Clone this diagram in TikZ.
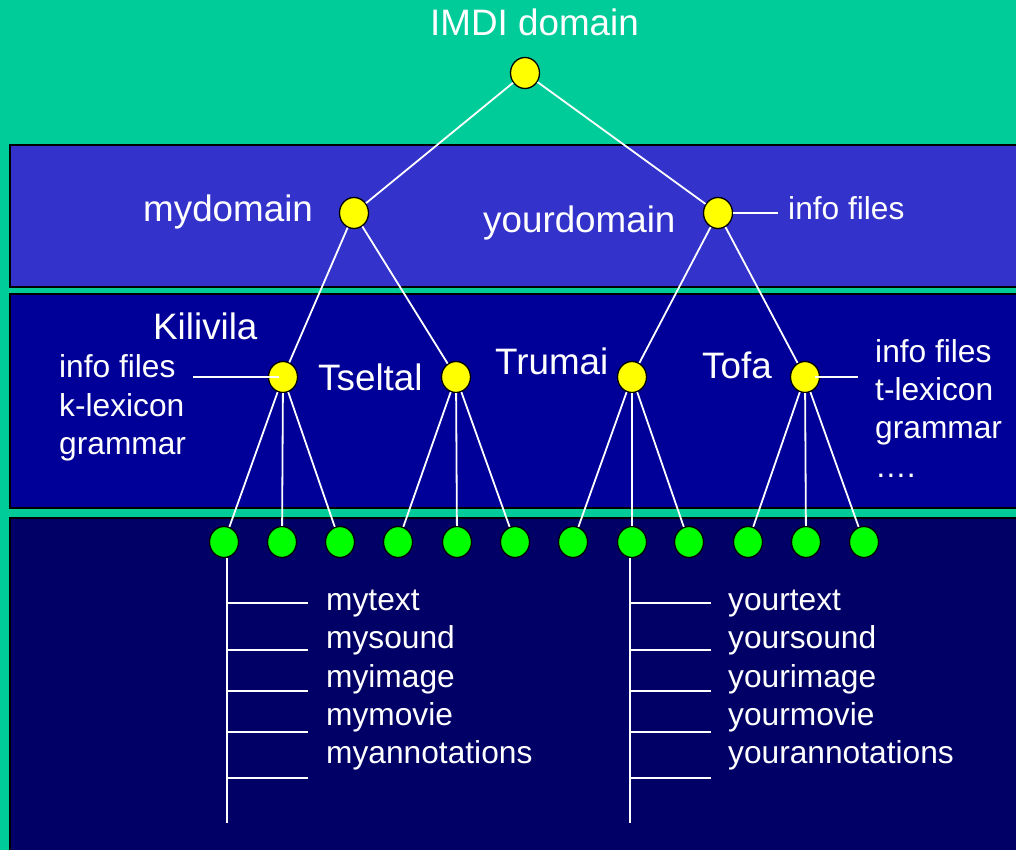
\documentclass[tikz,border=0pt]{standalone}
\usepackage{fontspec}
\setmainfont{Liberation Sans}
\usetikzlibrary{shapes.geometric}
\definecolor{bgteal}{HTML}{00CC99}
\definecolor{bandone}{HTML}{3333CC}
\definecolor{bandtwo}{HTML}{000099}
\definecolor{bandthree}{HTML}{000066}
\definecolor{leafgreen}{HTML}{00FF00}
\definecolor{domyellow}{HTML}{FFFF00}
\tikzset{
  band/.style={draw=black, line width=1.2},
  dom/.style={ellipse, draw=black, line width=1.3, fill=domyellow,
    minimum width=29, minimum height=31, inner sep=0},
  leaf/.style={dom, fill=leafgreen},
  link/.style={draw=white, line width=1.8},
  big/.style={text=white, font=\fontsize{36.8}{40}\selectfont, anchor=base west, inner sep=0},
  small/.style={text=white, font=\fontsize{31.7}{38}\selectfont, anchor=base west, inner sep=0}
}
\begin{document}
\begin{tikzpicture}[x=1pt,y=-1pt]
  \clip (0,0) rectangle (1016,850);
  \fill[bgteal] (0,0) rectangle (1016,850);
  % layered bands
  \filldraw[band, fill=bandone]   (10,145) rectangle (1030,287);
  \filldraw[band, fill=bandtwo]   (10,294) rectangle (1030,508);
  \filldraw[band, fill=bandthree] (10,518) rectangle (1030,870);

  % tree nodes
  \node[dom] (root) at (525,73) {};
  \node[dom] (myd) at (354,213) {};
  \node[dom] (yd)  at (718,213) {};
  \node[dom] (kil) at (283,377) {};
  \node[dom] (tse) at (456,377) {};
  \node[dom] (tru) at (632,377) {};
  \node[dom] (tof) at (805,377) {};
  \foreach \i/\x in {1/224,2/282,3/340,4/398,5/457,6/515,7/573,8/632,9/689,10/748,11/806,12/864}
    \node[leaf] (g\i) at (\x,542) {};

  % tree edges
  \draw[link] (root) -- (myd);
  \draw[link] (root) -- (yd);
  \draw[link] (myd) -- (kil);
  \draw[link] (myd) -- (tse);
  \draw[link] (yd) -- (tru);
  \draw[link] (yd) -- (tof);
  \draw[link] (kil) -- (g1);  \draw[link] (kil) -- (g2);  \draw[link] (kil) -- (g3);
  \draw[link] (tse) -- (g4);  \draw[link] (tse) -- (g5);  \draw[link] (tse) -- (g6);
  \draw[link] (tru) -- (g7);  \draw[link] (tru) -- (g8);  \draw[link] (tru) -- (g9);
  \draw[link] (tof) -- (g10); \draw[link] (tof) -- (g11); \draw[link] (tof) -- (g12);

  % info file pointers
  \coordinate (ydinfo) at (778,213);
  \coordinate (kilinfo) at (193,377);
  \coordinate (tofinfo) at (858,377);
  \draw[link] (yd.east) -- (ydinfo);
  \draw[link] (kilinfo) -- ([xshift=-4pt]kil.center);
  \draw[link] ([xshift=10pt]tof.center) -- (tofinfo);

  % resource ladders
  \coordinate (lbot) at (227,823);
  \coordinate (rbot) at (630,823);
  \draw[link] (g1.south -| lbot) -- (lbot);
  \draw[link] (g8.south -| rbot) -- (rbot);
  \foreach \y in {603,650,691,732,778} {
    \draw[link] (227,\y) -- (308,\y);
    \draw[link] (630,\y) -- (711,\y);
  }

  % labels
  \node[big] (tRoot) at (430,36) {IMDI domain};
  \node[big] (tMyd) at (143,222) {mydomain};
  \node[big] (tYd) at (483,233) {yourdomain};
  \node[small] (tYdInfo) at (788,219) {info files};
  \node[big] (tKil) at (153,339) {Kilivila};
  \node[big] (tTse) at (318,390) {Tseltal};
  \node[big] (tTru) at (495,374) {Trumai};
  \node[big] (tTof) at (702,378) {Tofa};

  \node[small] (kA) at (59,377) {info files};
  \node[small] (kB) at (59,416) {k-lexicon};
  \node[small] (kC) at (59,454) {grammar};

  \node[small] (tA) at (875,362) {info files};
  \node[small] (tB) at (875,400) {t-lexicon};
  \node[small] (tC) at (875,438) {grammar};
  \node[small] (tD) at (875,477) {….};

  \node[small] (mA) at (326,610) {mytext};
  \node[small] (mB) at (326,648) {mysound};
  \node[small] (mC) at (326,687) {myimage};
  \node[small] (mD) at (326,725) {mymovie};
  \node[small] (mE) at (326,763) {myannotations};

  \node[small] (yA) at (728,610) {yourtext};
  \node[small] (yB) at (728,648) {yoursound};
  \node[small] (yC) at (728,687) {yourimage};
  \node[small] (yD) at (728,725) {yourmovie};
  \node[small] (yE) at (728,763) {yourannotations};
\end{tikzpicture}
\end{document}
